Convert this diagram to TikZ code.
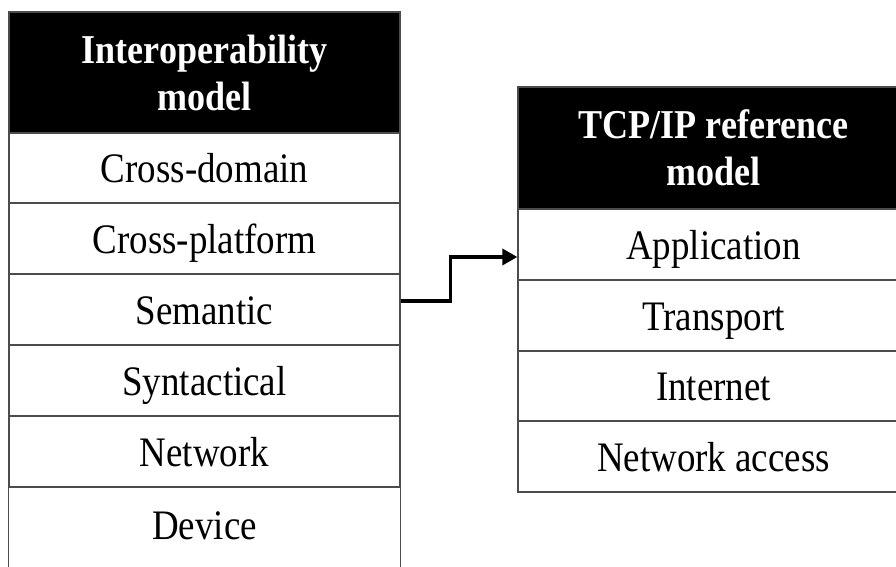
\documentclass[tikz,border=0pt]{standalone}
\usepackage{fontspec}
\setmainfont{Liberation Serif}[FakeStretch=0.88]
\usetikzlibrary{arrows.meta,calc}
\begin{document}
\begin{tikzpicture}[x=1pt,y=-1pt,
  gridline/.style={draw=black!70, line width=1.3pt},
  cell/.style={gridline, minimum width=391pt, minimum height=71pt, inner sep=0pt,
    text height=29.5pt, text depth=0pt, font=\fontsize{42}{48}\selectfont, text=black},
  celltext/.style={cell, draw=none},
  head/.style={gridline, fill=black, text=white, minimum width=391pt, minimum height=121pt,
    inner sep=0pt, align=center, font=\fontsize{41}{47}\selectfont\bfseries},
  link/.style={line width=3.5pt, -{Triangle[length=15pt,width=16pt]}}]
\useasboundingbox (0,0) rectangle (896,567);
\begin{scope}
\clip (0,0) rectangle (896,567);
% left table
\node[head] (ihead) at (204.5,72.5) {Interoperability\\model};
\node[cell] (crossdomain) at (204.5,168) {Cross-domain};
\node[cell] (crossplatform) at (204.5,238.5) {Cross-platform};
\node[cell] (semantic) at (204.5,309.5) {Semantic};
\node[cell] (syntactical) at (204.5,380.5) {Syntactical};
\node[cell] (network) at (204.5,451.5) {Network};
\node[celltext] (device) at (204.5,524.5) {Device};
\draw[gridline] (network.south west) -- ++(0,100);
\draw[gridline] (network.south east) -- ++(0,100);
% right table
\node[head, minimum height=122pt] (thead) at (713.5,148) {TCP/IP reference\\model};
\node[cell] (application) at (713.5,244.5) {Application};
\node[cell] (transport) at (713.5,315.5) {Transport};
\node[cell] (internet) at (713.5,386) {Internet};
\node[cell] (netaccess) at (713.5,456.5) {Network access};
% connector
\draw[link] ($(semantic.east)+(0,-8.5)$) -- ++(50,0) |- ($(application.west)+(0,12.5)$);
\end{scope}
\end{tikzpicture}
\end{document}
